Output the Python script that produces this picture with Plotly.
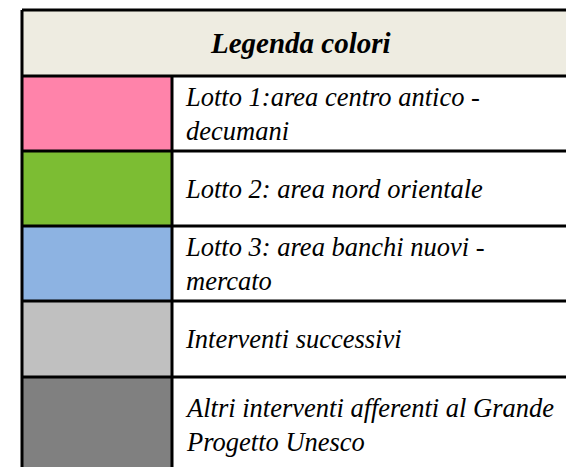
import plotly.graph_objects as go

header = "Legenda colori"
labels = [
    "Lotto 1:area centro antico -<br>decumani",
    "Lotto 2: area nord orientale",
    "Lotto 3: area banchi nuovi -<br>mercato",
    "Interventi successivi",
    "Altri interventi afferenti al Grande<br>Progetto Unesco",
]
colors = ["#FF83AA", "#7CBD33", "#8DB3E2", "#C0C0C0", "#808080"]
header_color = "#EEECE1"
FONT = "'Liberation Serif', 'Times New Roman', Times, serif"

# layout geometry (page-pixel units on hidden axes)
W, H = 566, 467
x_left, x_div, x_right = 22, 172, 620
y_top, header_h = 10, 66
row_heights = [75, 75, 75, 76, 96]

edges = [y_top, y_top + header_h]
for h in row_heights:
    edges.append(edges[-1] + h)

shapes = []
annotations = []
shapes.append(dict(type="rect", xref="x", yref="y", x0=x_left, x1=x_right,
                   y0=edges[0], y1=edges[1], fillcolor=header_color, line_width=0, layer="below"))
annotations.append(dict(x=300, y=(edges[0] + edges[1]) / 2, xref="x", yref="y",
                        text="<b><i>" + header + "</i></b>", showarrow=False,
                        xanchor="center", yanchor="middle",
                        font=dict(family=FONT, size=29, color="black")))
for i, (lab, col) in enumerate(zip(labels, colors)):
    y0, y1 = edges[i + 1], edges[i + 2]
    shapes.append(dict(type="rect", xref="x", yref="y", x0=x_left, x1=x_div,
                       y0=y0, y1=y1, fillcolor=col, line_width=0, layer="below"))
    annotations.append(dict(x=x_div + 11, y=(y0 + y1) / 2, xref="x", yref="y",
                            text="<i>" + lab + "</i>", showarrow=False,
                            xanchor="left", yanchor="middle", align="left",
                            font=dict(family=FONT, size=26.5, color="black")))

lw = 3
for e in edges[:-1]:
    shapes.append(dict(type="line", xref="x", yref="y", x0=x_left, x1=x_right, y0=e, y1=e,
                       line=dict(color="black", width=lw)))
shapes.append(dict(type="line", xref="x", yref="y", x0=x_left, x1=x_left, y0=edges[0], y1=edges[-1] + 20,
                   line=dict(color="black", width=lw)))
shapes.append(dict(type="line", xref="x", yref="y", x0=x_div, x1=x_div, y0=edges[1], y1=edges[-1] + 20,
                   line=dict(color="black", width=lw)))

fig = go.Figure()
fig.update_layout(
    width=W, height=H, margin=dict(l=0, r=0, t=0, b=0),
    paper_bgcolor="white", plot_bgcolor="white",
    xaxis=dict(range=[0, W], visible=False, fixedrange=True),
    yaxis=dict(range=[H, 0], visible=False, fixedrange=True),
    shapes=shapes, annotations=annotations, showlegend=False,
)
fig.write_html("out.html", config={"displayModeBar": False},
               post_script="document.body.style.margin='0';document.body.style.overflow='hidden';")
